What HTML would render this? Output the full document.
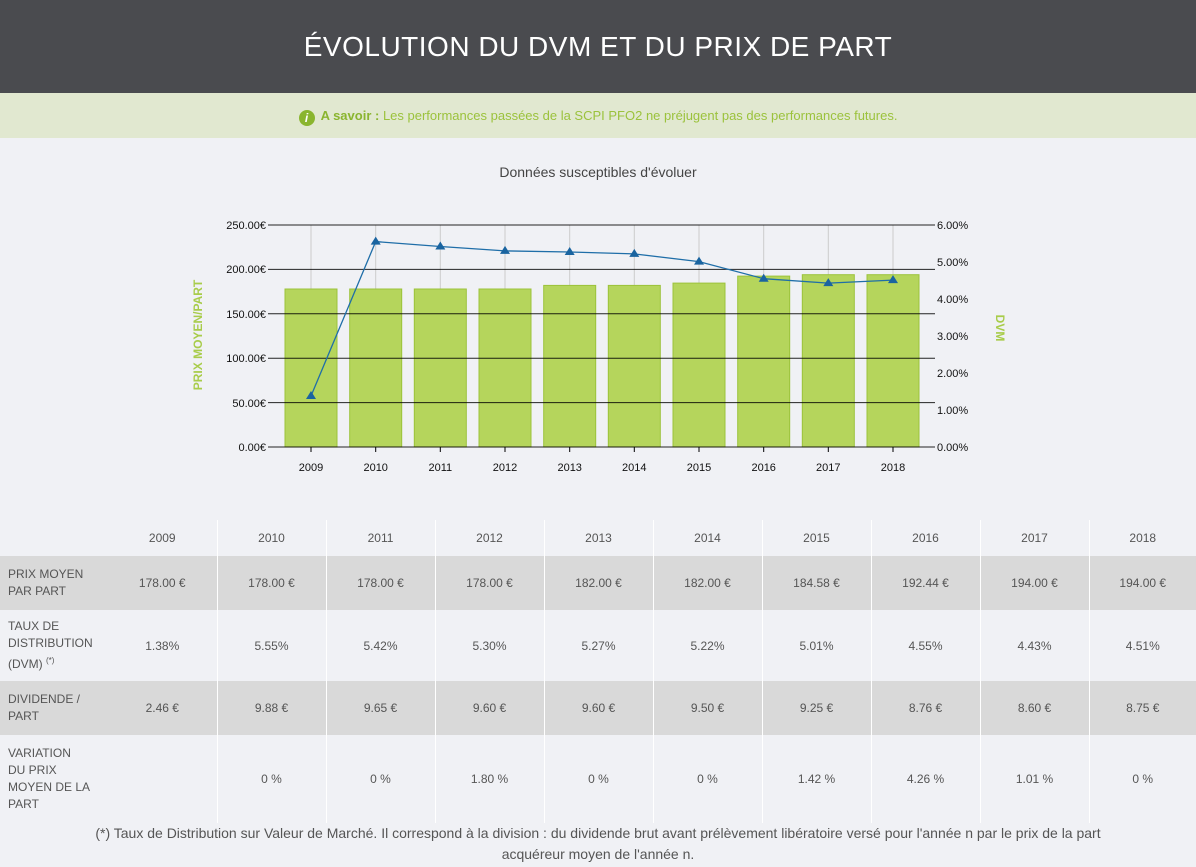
<!DOCTYPE html>
<html><head><meta charset="utf-8"><style>
body{margin:0;width:1196px;height:867px;background:#f0f1f5;font-family:"Liberation Sans",sans-serif;overflow:hidden;position:relative}
.hd{position:absolute;left:0;top:0;width:1196px;height:93px;background:#4a4b4f;color:#fff;font-size:28px;text-align:center;line-height:93px;letter-spacing:0.5px}
.info{position:absolute;left:0;top:93px;width:1196px;height:45px;background:#e1e8d0;color:#9bc23c;font-size:13px;text-align:center;line-height:45px}
.info b{color:#8ab52f}
.ic{display:inline-block;width:16px;height:16px;border-radius:50%;background:#8ab52f;color:#fff;font-size:12px;line-height:16px;font-style:italic;font-weight:bold;vertical-align:-2px;margin-right:6px}
table{position:absolute;left:0;top:520px;border-collapse:collapse;font-size:12px;color:#555}
td{text-align:center;border-left:1px solid #fff;padding:0}
td.l{text-align:left;padding-left:8px;line-height:17px;border-left:none}
tr.g td{background:#d9d9d9}
.fn{position:absolute;left:0;top:823px;width:1196px;text-align:center;color:#555;font-size:14px;line-height:21px}
</style></head><body>
<div class="hd">ÉVOLUTION DU DVM ET DU PRIX DE PART</div>
<div class="info"><span class="ic">i</span><b>A savoir :</b> Les performances passées de la SCPI PFO2 ne préjugent pas des performances futures.</div>
<svg style="position:absolute;left:0;top:0" width="1196" height="520" font-family="Liberation Sans, sans-serif">
<text x="598" y="177" text-anchor="middle" font-size="14" fill="#444">Données susceptibles d'évoluer</text>
<g stroke="#ccc" stroke-width="1">
<line x1="311" y1="225" x2="311" y2="447"/><line x1="375.7" y1="225" x2="375.7" y2="447"/><line x1="440.3" y1="225" x2="440.3" y2="447"/><line x1="505" y1="225" x2="505" y2="447"/><line x1="569.7" y1="225" x2="569.7" y2="447"/><line x1="634.3" y1="225" x2="634.3" y2="447"/><line x1="699" y1="225" x2="699" y2="447"/><line x1="763.7" y1="225" x2="763.7" y2="447"/><line x1="828.3" y1="225" x2="828.3" y2="447"/><line x1="893" y1="225" x2="893" y2="447"/>
</g>
<g fill="#b5d55c" stroke="#9cc23a" stroke-width="1">
<rect x="285" y="289" width="52" height="158"/><rect x="349.7" y="289" width="52" height="158"/><rect x="414.3" y="289" width="52" height="158"/><rect x="479" y="289" width="52" height="158"/><rect x="543.7" y="285.4" width="52" height="161.6"/><rect x="608.3" y="285.4" width="52" height="161.6"/><rect x="673" y="283.1" width="52" height="163.9"/><rect x="737.7" y="276.1" width="52" height="170.9"/><rect x="802.3" y="274.7" width="52" height="172.3"/><rect x="867" y="274.7" width="52" height="172.3"/>
</g>
<g stroke="#000" stroke-width="1" opacity="0.85">
<line x1="268" y1="225" x2="935" y2="225"/><line x1="268" y1="269.4" x2="935" y2="269.4"/><line x1="268" y1="313.8" x2="935" y2="313.8"/><line x1="268" y1="358.2" x2="935" y2="358.2"/><line x1="268" y1="402.6" x2="935" y2="402.6"/><line x1="268" y1="447" x2="935" y2="447"/>
</g>
<g stroke="#000"><line x1="311" y1="447" x2="311" y2="452"/><line x1="375.7" y1="447" x2="375.7" y2="452"/><line x1="440.3" y1="447" x2="440.3" y2="452"/><line x1="505" y1="447" x2="505" y2="452"/><line x1="569.7" y1="447" x2="569.7" y2="452"/><line x1="634.3" y1="447" x2="634.3" y2="452"/><line x1="699" y1="447" x2="699" y2="452"/><line x1="763.7" y1="447" x2="763.7" y2="452"/><line x1="828.3" y1="447" x2="828.3" y2="452"/><line x1="893" y1="447" x2="893" y2="452"/></g>
<polyline fill="none" stroke="#1f6ea8" stroke-width="1.3" points="311,396 375.7,241.6 440.3,246.5 505,250.9 569.7,252 634.3,253.9 699,261.6 763.7,278.7 828.3,283.1 893,280.1"/>
<g fill="#1a64a0">
<path d="M311,391 l5,8 h-10z"/><path d="M375.7,236.6 l5,8 h-10z"/><path d="M440.3,241.5 l5,8 h-10z"/><path d="M505,245.9 l5,8 h-10z"/><path d="M569.7,247 l5,8 h-10z"/><path d="M634.3,248.9 l5,8 h-10z"/><path d="M699,256.6 l5,8 h-10z"/><path d="M763.7,273.7 l5,8 h-10z"/><path d="M828.3,278.1 l5,8 h-10z"/><path d="M893,275.1 l5,8 h-10z"/>
</g>
<g font-size="11" fill="#111" text-anchor="end">
<text x="266" y="229">250.00€</text><text x="266" y="273">200.00€</text><text x="266" y="318">150.00€</text><text x="266" y="362">100.00€</text><text x="266" y="407">50.00€</text><text x="266" y="451">0.00€</text>
</g>
<g font-size="11" fill="#111">
<text x="937" y="229">6.00%</text><text x="937" y="266">5.00%</text><text x="937" y="303">4.00%</text><text x="937" y="340">3.00%</text><text x="937" y="377">2.00%</text><text x="937" y="414">1.00%</text><text x="937" y="451">0.00%</text>
</g>
<g font-size="11" fill="#111" text-anchor="middle">
<text x="311" y="471">2009</text><text x="375.7" y="471">2010</text><text x="440.3" y="471">2011</text><text x="505" y="471">2012</text><text x="569.7" y="471">2013</text><text x="634.3" y="471">2014</text><text x="699" y="471">2015</text><text x="763.7" y="471">2016</text><text x="828.3" y="471">2017</text><text x="893" y="471">2018</text>
</g>
<text transform="translate(202,335) rotate(-90)" text-anchor="middle" font-size="12" font-weight="bold" fill="#a8cc4a">PRIX MOYEN/PART</text>
<text transform="translate(996,328) rotate(90)" text-anchor="middle" font-size="12" font-weight="bold" fill="#a8cc4a">DVM</text>
</svg>
<table>
<colgroup><col style="width:108px"><col style="width:109px"><col style="width:109px"><col style="width:109px"><col style="width:109px"><col style="width:109px"><col style="width:109px"><col style="width:109px"><col style="width:109px"><col style="width:109px"><col style="width:107px"></colgroup>
<tr style="height:36px"><td class="l"></td><td style="border-left:none">2009</td><td>2010</td><td>2011</td><td>2012</td><td>2013</td><td>2014</td><td>2015</td><td>2016</td><td>2017</td><td>2018</td></tr>
<tr class="g" style="height:54px"><td class="l">PRIX MOYEN<br>PAR PART</td><td style="border-left:none">178.00 €</td><td>178.00 €</td><td>178.00 €</td><td>178.00 €</td><td>182.00 €</td><td>182.00 €</td><td>184.58 €</td><td>192.44 €</td><td>194.00 €</td><td>194.00 €</td></tr>
<tr style="height:71px"><td class="l">TAUX DE<br>DISTRIBUTION<br>(DVM) <sup style="font-size:8px">(*)</sup></td><td style="border-left:none">1.38%</td><td>5.55%</td><td>5.42%</td><td>5.30%</td><td>5.27%</td><td>5.22%</td><td>5.01%</td><td>4.55%</td><td>4.43%</td><td>4.51%</td></tr>
<tr class="g" style="height:54px"><td class="l">DIVIDENDE /<br>PART</td><td style="border-left:none">2.46 €</td><td>9.88 €</td><td>9.65 €</td><td>9.60 €</td><td>9.60 €</td><td>9.50 €</td><td>9.25 €</td><td>8.76 €</td><td>8.60 €</td><td>8.75 €</td></tr>
<tr style="height:88px"><td class="l">VARIATION<br>DU PRIX<br>MOYEN DE LA<br>PART</td><td style="border-left:none"></td><td>0 %</td><td>0 %</td><td>1.80 %</td><td>0 %</td><td>0 %</td><td>1.42 %</td><td>4.26 %</td><td>1.01 %</td><td>0 %</td></tr>
</table>
<div class="fn">(*) Taux de Distribution sur Valeur de Marché. Il correspond à la division : du dividende brut avant prélèvement libératoire versé pour l'année n par le prix de la part<br>acquéreur moyen de l'année n.</div>
</body></html>
